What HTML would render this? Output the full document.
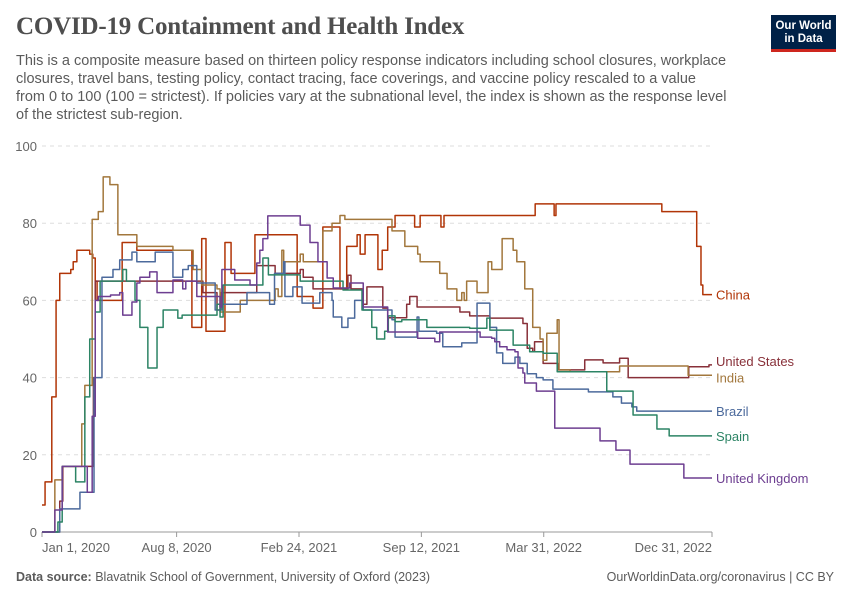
<!DOCTYPE html>
<html><head><meta charset="utf-8">
<style>
body{margin:0;background:#fff;}
#wrap{position:relative;width:850px;height:600px;overflow:hidden;font-family:"Liberation Sans",sans-serif;}
h1{position:absolute;left:16px;top:13px;margin:0;font-family:"Liberation Serif",serif;font-size:25px;font-weight:bold;color:#4e4e4e;letter-spacing:-0.2px;}
#sub{position:absolute;left:16px;top:52px;white-space:nowrap;font-size:14.5px;line-height:18px;color:#5b5b5b;}
#logo{position:absolute;left:771px;top:15px;width:65px;height:37px;background:#002147;color:#fff;font-size:11.5px;font-weight:bold;text-align:center;line-height:13px;padding-top:5px;box-sizing:border-box;border-bottom:3px solid #ce261e;}
.foot{position:absolute;top:570px;font-size:12.5px;color:#5b5b5b;}
</style></head><body>
<div id="wrap">
<h1>COVID-19 Containment and Health Index</h1>
<div id="sub">This is a composite measure based on thirteen policy response indicators including school closures, workplace<br>closures, travel bans, testing policy, contact tracing, face coverings, and vaccine policy rescaled to a value<br>from 0 to 100 (100 = strictest). If policies vary at the subnational level, the index is shown as the response level<br>of the strictest sub-region.</div>
<div id="logo">Our World<br>in Data</div>
<svg id="chart" width="850" height="600" style="position:absolute;left:0;top:0"></svg>
<div class="foot" style="left:16px"><b>Data source:</b> Blavatnik School of Government, University of Oxford (2023)</div>
<div class="foot" style="right:16px">OurWorldinData.org/coronavirus | CC BY</div>
</div>
<script>
const yTicks=[0,20,40,60,80,100];
const xTickDays=[0,220,420,620,820,1095];
const xTickLabels=["Jan 1, 2020","Aug 8, 2020","Feb 24, 2021","Sep 12, 2021","Mar 31, 2022","Dec 31, 2022"];
const seriesNames=["China","United States","India","Brazil","Spain","United Kingdom"];
const china=[[0,7],[5,13],[16,35],[23,60],[29,67],[47,68],[51,70],[57,73],[78,72],[83,71],[87,65],[90,60],[131,75],[155,73],[245,53],[261,76],[268,52],[299,75],[309,67],[348,77],[417,61],[443,58],[459,79],[487,63],[498,74],[515,77],[520,72],[528,77],[549,68],[556,73],[565,79],[577,82],[609,79],[618,82],[652,79],[657,82],[806,85],[837,82],[840,85],[1013,83],[1070,74],[1077,64],[1080,61.5]];
const unitedStates=[[0,0],[29,8],[34,17],[80,17],[84,40],[87,65],[263,62],[286,57.5],[292,62],[345,62],[351,69],[381,67],[422,68],[427,66],[443,63],[500,66.5],[505,63],[525,59],[531,63.5],[557,58],[565,55.5],[596,59],[601,61],[613,58.3],[683,57],[699,56],[732,55.4],[786,54],[793,47.6],[802,46.7],[805,49.3],[819,43.7],[843,42],[887,44.6],[917,43.8],[944,45],[958,40],[1057,42.8],[1090,43.3]];
const india=[[0,0],[21,13.5],[33,17],[65,28],[70,38],[82,81],[92,83],[100,92],[111,90],[124,77],[155,74],[214,73],[247,68],[261,64],[286,63],[291,57],[324,60],[381,63],[386,61],[392,73],[395,70],[422,72],[427,70],[459,78],[474,80],[487,82],[495,81],[572,78],[593,74],[614,72],[618,70],[650,67],[662,63],[678,60],[686,62],[690,60],[694,65],[711,62],[729,70],[735,68],[752,76],[770,73],[776,70],[789,63],[802,53],[814,50],[819,44.5],[825,51.5],[842,55],[845,42],[863,41.5],[944,43],[1056,40.6]];
const brazil=[[0,0],[29,6],[62,10.3],[75,10.3],[85,40],[98,66],[116,68],[127,70.5],[147,72.5],[155,70],[185,72.5],[214,66],[230,68],[239,69],[253,64.5],[283,57.5],[294,59],[335,62],[372,59],[380,67],[395,70],[397,61],[410,63.5],[425,59.3],[454,62],[474,60],[476,55.7],[490,53],[500,55.4],[511,60],[525,57.5],[572,55],[577,50.5],[613,55.7],[616,52],[645,51.5],[655,48],[686,49],[711,59.3],[732,53],[743,46.4],[753,43.7],[773,45.3],[781,43.7],[793,41],[808,40],[819,39.4],[835,37],[893,36.3],[933,35],[947,33.4],[964,32.4],[972,31.3]];
const spain=[[0,0],[26,2.6],[33,17],[55,13],[70,35],[78,50],[87,57],[95,65],[132,68],[138,65],[152,60],[160,53],[173,42.5],[188,53],[198,57.5],[222,55.4],[229,56.2],[286,59],[291,55.7],[296,64],[361,71],[370,66.6],[377,66.6],[422,65],[492,62.7],[523,57.5],[539,53],[547,50],[560,52],[566,56],[577,54.5],[588,55],[629,53],[699,52.8],[727,55.4],[732,52.3],[770,48.4],[797,46.7],[819,46.3],[842,41.5],[923,36.5],[966,30.3],[1005,26.7],[1025,24.9]];
const unitedKingdom=[[0,0],[21,5.7],[33,17],[74,10.3],[82,30],[87,60],[92,61],[112,61.4],[127,62],[132,56.2],[147,59.6],[155,64.5],[160,66],[176,67.4],[188,62],[214,65.3],[230,63],[235,65],[253,61],[291,58.3],[294,68],[315,65.3],[340,64],[351,69.7],[356,73],[361,76],[369,81.9],[422,79.5],[438,75],[451,70],[466,65.8],[476,63.2],[503,64.5],[525,58.3],[565,51.8],[614,50.2],[642,49.3],[650,51.8],[716,50.5],[735,50.2],[740,49.3],[748,48],[760,47.2],[773,46.7],[778,42.5],[786,41.2],[789,38.6],[808,36.5],[838,26.9],[912,23.6],[938,21.2],[961,17.6],[1049,14]];
const seriesData=[china,unitedStates,india,brazil,spain,unitedKingdom];
const colors=["#b13507","#883039","#a2773c","#4c6a9c","#2c8465","#6d3e91"];
const labelShift=[0,-4,2,0,0,0];
const lastDay=1095;
const X0=42,X1=712,Y0=532,Y1=146;
const sx=d=>X0+(X1-X0)*d/lastDay;
const sy=v=>Y0-(Y0-Y1)*v/100;
const NS="http://www.w3.org/2000/svg";
const svg=document.getElementById('chart');
function mk(t,a){const e=document.createElementNS(NS,t);for(const k in a)e.setAttribute(k,a[k]);svg.appendChild(e);return e;}
yTicks.forEach(v=>{
  if(v>0){const g=mk('line',{x1:X0,x2:X1,y1:sy(v),y2:sy(v),stroke:'#dddddd','stroke-dasharray':'4,4'});
  
  }
  const t=mk('text',{x:37,y:sy(v)+5,'text-anchor':'end','font-size':13,fill:'#666','font-family':'Liberation Sans, sans-serif'});
  t.textContent=v;
  
  
});
const ax=mk('line',{x1:X0,x2:X1,y1:Y0,y2:Y0,stroke:'#999'});


xTickDays.forEach((d,i)=>{
  const tk=mk('line',{x1:sx(d),x2:sx(d),y1:Y0,y2:Y0+5,stroke:'#999'});
  
  
  const anchor=i===0?'start':(i===xTickDays.length-1?'end':'middle');
  const t=mk('text',{x:sx(d),y:552,'text-anchor':anchor,'font-size':13,fill:'#666','font-family':'Liberation Sans, sans-serif'});
  t.textContent=xTickLabels[i];
  
  
});
seriesData.forEach((s,i)=>{
  let d='M'+sx(s[0][0])+' '+sy(s[0][1]);
  for(let j=1;j<s.length;j++){d+=' H'+sx(s[j][0])+' V'+sy(s[j][1]);}
  d+=' H'+sx(lastDay);
  const p=mk('path',{d:d,fill:'none',stroke:colors[i],'stroke-width':1.5,'stroke-linejoin':'round'});
  
  
  const last=s[s.length-1][1];
  const t=mk('text',{x:716,y:sy(last)+5+labelShift[i],'font-size':13,fill:colors[i],'font-family':'Liberation Sans, sans-serif'});
  t.textContent=seriesNames[i];
  
  
});
</script>
</body></html>
